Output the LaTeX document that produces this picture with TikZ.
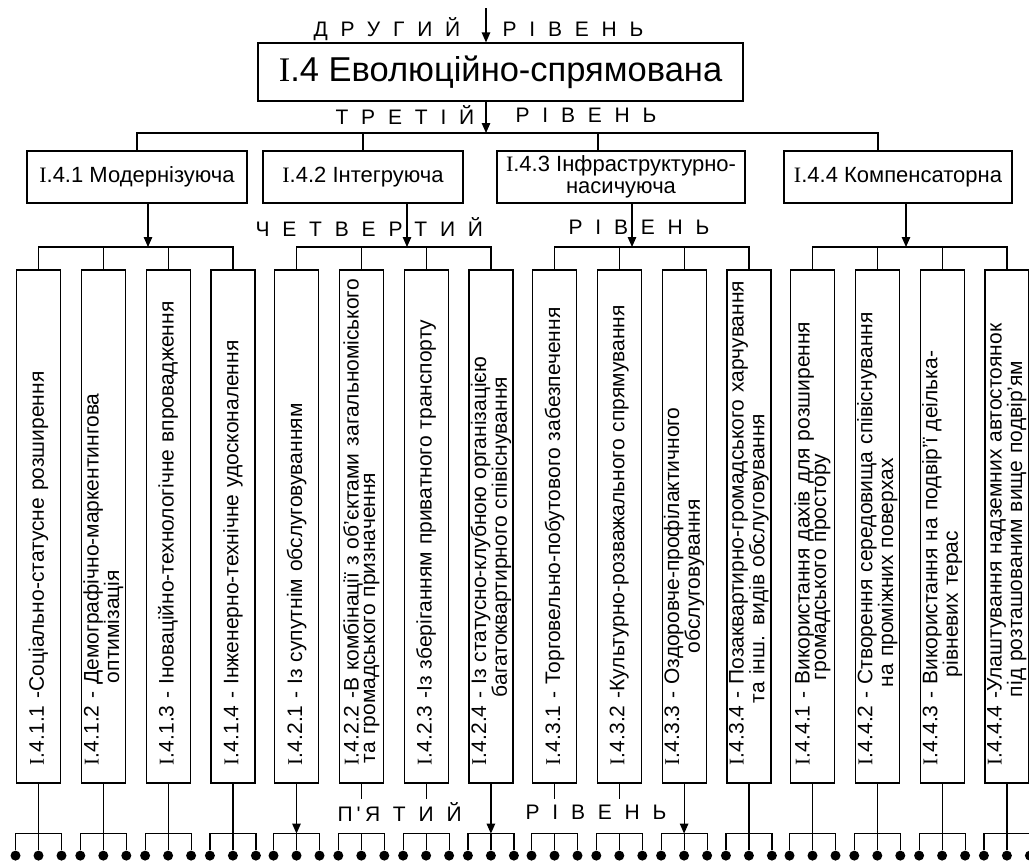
\documentclass[tikz,border=0pt]{standalone}
\usepackage{fontspec}
\setmainfont{Liberation Sans}
\newfontfamily\tnr{Liberation Serif}
\newfontfamily\spaced[LetterSpace=61]{Liberation Sans}
\usetikzlibrary{arrows.meta}
\tikzset{
  lvl/.style={font=\spaced\fontsize{21}{24}\selectfont, inner sep=0pt, anchor=west},
  topbox/.style={draw, minimum width=485pt, minimum height=58pt, font=\fontsize{34.5}{40}\selectfont},
  midbox/.style={draw, minimum height=52pt, align=center, inner sep=2pt, font=\fontsize{22}{21.5}\selectfont},
  vbox/.style={draw, rotate=90, text width=505pt, inner xsep=4pt, inner ysep=1pt, minimum height=44pt,
    align=left, font=\fontsize{21}{16.5}\selectfont, execute at begin node={\hspace*{14pt}}},
  dot/.style={circle, fill, inner sep=0pt, minimum size=10pt}
}
\begin{document}
\begin{tikzpicture}[x=1pt, y=-1pt, line width=1.2pt, >={Triangle[length=10pt,width=8.5pt]}]
\useasboundingbox (0,0) rectangle (1029,865);
% levels
\node[lvl] (l2a) at (313,29) {ДРУГИЙ};
\node[lvl] (l2b) at (502,29) {РІВЕНЬ};
\node[lvl] (l3a) at (335,115) {ТРЕТІЙ};
\node[lvl] (l3b) at (515,115) {РІВЕНЬ};
\node[lvl] (l4a) at (255,227) {ЧЕТВЕРТИЙ};
\node[lvl] (l4b) at (568,227) {РІВЕНЬ};
\node[lvl] (l5a) at (337,812) {П\kern4pt'\kern4.3ptЯТИЙ};
\node[lvl] (l5b) at (525,812) {РІВЕНЬ};
% second and third level
\node[topbox] (top) at (500.5,72) {{\tnr I}.4 Еволюційно-спрямована};
\node[midbox, minimum width=220pt] (m1) at (137,177) {{\tnr I}.4.1 Модернізуюча};
\node[midbox, minimum width=200pt] (m2) at (363,177) {{\tnr I}.4.2 Інтегруюча};
\node[midbox, minimum width=248pt] (m3) at (621,177) {{\tnr I}.4.3 Інфраструктурно-\\насичуюча};
\node[midbox, minimum width=228pt] (m4) at (898,177) {{\tnr I}.4.4 Компенсаторна};
% fourth level
\node[vbox] (b0) at (38.5,526.5) {{\tnr I}.4.1.1 -Соціально-статусне розширення};
\node[vbox] (b1) at (103.3,526.5) {{\tnr I}.4.1.2 - Демографічно-маркентингова\\\hspace*{96pt}оптимізація};
\node[vbox] (b2) at (168.1,526.5) {{\tnr I}.4.1.3 - Іноваційно-технологічне впровадження};
\node[vbox] (b3) at (232.9,526.5) {{\tnr I}.4.1.4 - Інженерно-технічне удосконалення};
\node[vbox] (b4) at (296.5,526.5) {{\tnr I}.4.2.1 - Із супутнім обслуговуванням};
\node[vbox] (b5) at (361.3,526.5) {{\tnr I}.4.2.2 -В комбінації з об'єктами загальноміського\\\hspace*{16pt}та громадського призначення};
\node[vbox] (b6) at (426.1,526.5) {{\tnr I}.4.2.3 -Із зберіганням приватного транспорту};
\node[vbox] (b7) at (490.9,526.5) {{\tnr I}.4.2.4 - Із статусно-клубною організацією\\\hspace*{82pt}багатоквартирного співіснування};
\node[vbox] (b8) at (554.5,526.5) {{\tnr I}.4.3.1 - Торговельно-побутового забезпечення};
\node[vbox] (b9) at (619.3,526.5) {{\tnr I}.4.3.2 -Культурно-розважального спрямування};
\node[vbox] (b10) at (684.1,526.5) {{\tnr I}.4.3.3 - Оздоровче-профілактичного\\\hspace*{126pt}обслуговування};
\node[vbox] (b11) at (748.9,526.5) {{\tnr I}.4.3.4 - Позаквартирно-громадського харчування\\\hspace*{76pt}та інш. видів обслуговування};
\node[vbox] (b12) at (812.5,526.5) {{\tnr I}.4.4.1 - Використання дахів для розширення\\\hspace*{99pt}громадського простору};
\node[vbox] (b13) at (877.3,526.5) {{\tnr I}.4.4.2 - Створення середовища співіснування\\\hspace*{92pt}на проміжних поверхах};
\node[vbox] (b14) at (942.1,526.5) {{\tnr I}.4.4.3 - Використання на подвір'ї деілька-\\\hspace*{102pt}рівневих терас};
\node[vbox] (b15) at (1006.9,526.5) {{\tnr I}.4.4.4 -Улаштування надземних автостоянок\\\hspace*{82pt}під розташованим вище подвір'ям};
% connectors
\coordinate (t0) at (486,8);
\coordinate (h) at (486,133);
\coordinate (c3) at (598,133);
\coordinate (c4) at (878,133);
\draw[->] (t0) -- (t0 |- top.north);
\draw[->] (h |- top.south) -- (h);
\draw (m1.north) |- (c4) -- (m4.north -| c4);
\draw (m2.north) -- (m2.north |- h);
\draw (c3) -- (m3.north -| c3);
\foreach \g/\x in {1/148, 2/407, 3/632, 4/906}
  \coordinate (a\g) at (\x,247);
\foreach \g/\i/\j/\k/\l in {1/0/1/2/3, 2/4/5/6/7, 3/8/9/10/11, 4/12/13/14/15} {
  \draw[->] (a\g |- m\g.south) -- (a\g);
  \draw (b\i.east) |- (a\g) -| (b\l.east);
  \draw (b\j.east) -- (b\j.east |- a\g);
  \draw (b\k.east) -- (b\k.east |- a\g);
}
% fifth level
\foreach \i in {0,...,15} {
  \path (b\i.west) ++(-23,72) node[dot] (d\i-1) {} ++(23,0) node[dot] (d\i-2) {} ++(23,0) node[dot] (d\i-3) {};
  \path (b\i.west) ++(0,50) coordinate (k\i);
  \draw (d\i-1) |- (k\i) -| (d\i-3);
  \draw (k\i) -- (d\i-2);
}
\foreach \i in {0,1,2,3,11,12,13,14,15} \draw (b\i.west) -- (k\i);
\foreach \i in {4,7,10} \draw[->] (b\i.west) -- (k\i);
\foreach \i in {5,6,8,9} \draw (b\i.west) -- ++(0,15);
\end{tikzpicture}
\end{document}
